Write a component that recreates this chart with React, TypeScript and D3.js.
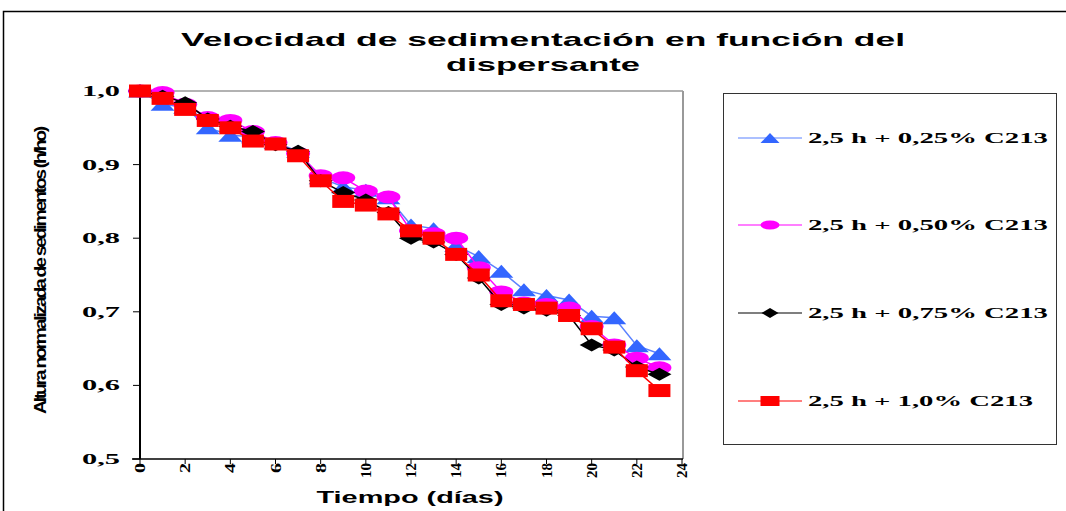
import React from "react";
import * as d3 from "d3";

// Days of observation
const days = [0, 1, 2, 3, 4, 5, 6, 7, 8, 9, 10, 11, 12, 13, 14, 15, 16, 17, 18, 19, 20, 21, 22, 23];

// Normalized sediment height (h/ho) for each dispersant dose
const c025 = [1.0, 0.982, 0.978, 0.95, 0.94, 0.938, 0.93, 0.918, 0.882, 0.87, 0.865, 0.855, 0.818, 0.813, 0.79, 0.775, 0.755, 0.73, 0.722, 0.716, 0.694, 0.692, 0.654, 0.643];
const c050 = [1.0, 0.998, 0.982, 0.964, 0.96, 0.945, 0.93, 0.915, 0.885, 0.882, 0.864, 0.856, 0.81, 0.806, 0.8, 0.76, 0.727, 0.712, 0.71, 0.705, 0.68, 0.655, 0.637, 0.624];
const c075 = [1.0, 0.993, 0.984, 0.962, 0.952, 0.945, 0.927, 0.918, 0.878, 0.862, 0.852, 0.835, 0.8, 0.795, 0.778, 0.746, 0.71, 0.705, 0.702, 0.695, 0.655, 0.648, 0.625, 0.615];
const c100 = [1.0, 0.99, 0.975, 0.96, 0.95, 0.932, 0.928, 0.912, 0.878, 0.85, 0.845, 0.833, 0.81, 0.8, 0.778, 0.75, 0.715, 0.71, 0.705, 0.695, 0.677, 0.652, 0.62, 0.593];

const seriesNames = ["2,5 h + 0,25% C213", "2,5 h + 0,50% C213", "2,5 h + 0,75% C213", "2,5 h + 1,0% C213"];
const xTicks = [0, 2, 4, 6, 8, 10, 12, 14, 16, 18, 20, 22, 24];
const yTicks = [0.5, 0.6, 0.7, 0.8, 0.9, 1.0];

type Shape = "triangle" | "circle" | "diamond" | "square";
const series: { name: string; values: number[]; color: string; line: string; shape: Shape }[] = [
  { name: seriesNames[0], values: c025, color: "#3366FF", line: "#5b82ff", shape: "triangle" },
  { name: seriesNames[1], values: c050, color: "#FF00FF", line: "#FF00FF", shape: "circle" },
  { name: seriesNames[2], values: c075, color: "#000000", line: "#000000", shape: "diamond" },
  { name: seriesNames[3], values: c100, color: "#FF0000", line: "#FF0000", shape: "square" },
];

const left = 140, right = 682, top = 91, bottom = 459;
const x = d3.scaleLinear().domain([0, 24]).range([left, right]);
const y = d3.scaleLinear().domain([0.5, 1.0]).range([bottom, top]);

function Marker({ shape, cx, cy, color, w, h }: { shape: Shape; cx: number; cy: number; color: string; w: number; h: number }) {
  if (shape === "triangle") {
    return <polygon points={`${cx},${cy - h / 2} ${cx + w / 2},${cy + h / 2} ${cx - w / 2},${cy + h / 2}`} fill={color} />;
  }
  if (shape === "circle") {
    return <ellipse cx={cx} cy={cy} rx={w / 2} ry={h / 2} fill={color} />;
  }
  if (shape === "diamond") {
    return <polygon points={`${cx},${cy - h / 2} ${cx + w / 2},${cy} ${cx},${cy + h / 2} ${cx - w / 2},${cy}`} fill={color} />;
  }
  return <rect x={cx - w / 2} y={cy - h / 2} width={w} height={h} fill={color} />;
}

const fmt = (v: number) => v.toFixed(1).replace(".", ",");

export default function App() {
  const line = d3
    .line<number>()
    .x((_, i) => x(days[i]))
    .y((v) => y(v));

  const legendRows = [138, 225, 313, 401];

  return (
    <svg
      width={1066}
      height={511}
      style={{ position: "absolute", left: 0, top: 0, background: "#fff" }}
    >
      {/* chart frame */}
      <rect x={3.5} y={11.5} width={1080} height={520} fill="#fff" stroke="#000" strokeWidth={1.5} />

      {/* title */}
      <g fontFamily="Arial, 'Liberation Sans', sans-serif" fontWeight="bold" fontSize={19} fill="#000" textAnchor="middle">
        <text x={543} y={46} textLength={724} lengthAdjust="spacingAndGlyphs">Velocidad de sedimentación en función del</text>
        <text x={543} y={71} textLength={194} lengthAdjust="spacingAndGlyphs">dispersante</text>
      </g>

      {/* plot area border */}
      <line x1={left} y1={top} x2={right + 1} y2={top} stroke="#999" strokeWidth={1.5} />
      <line x1={right + 1} y1={top} x2={right + 1} y2={bottom} stroke="#999" strokeWidth={2} />

      {/* y axis */}
      <line x1={left} y1={top} x2={left} y2={bottom} stroke="#000" strokeWidth={2} />
      {yTicks.map((t) => (
        <g key={t}>
          <line x1={left - 7} y1={y(t)} x2={left} y2={y(t)} stroke="#000" strokeWidth={1} />
          <text
            x={120}
            y={y(t) + 5}
            textAnchor="end"
            fontFamily="'Liberation Serif', 'Times New Roman', serif"
            fontWeight="bold"
            fontSize={15}
            textLength={38}
            lengthAdjust="spacingAndGlyphs"
          >
            {fmt(t)}
          </text>
        </g>
      ))}
      <text
        transform={`translate(46, ${(128 + 414) / 2}) rotate(-90)`}
        textAnchor="middle"
        fontFamily="Arial, 'Liberation Sans', sans-serif"
        fontWeight="bold"
        fontSize={17}
        textLength={286}
        lengthAdjust="spacingAndGlyphs"
        style={{ letterSpacing: "-2px" }}
      >
        Altura normalizada de sedimentos (h/ho)
      </text>

      {/* x axis */}
      <line x1={left - 8} y1={bottom} x2={right + 1} y2={bottom} stroke="#000" strokeWidth={1.5} />
      {xTicks.map((t) => (
        <g key={t}>
          <line x1={x(t)} y1={bottom} x2={x(t)} y2={bottom + 5} stroke="#000" strokeWidth={1} />
          <text
            transform={`translate(${x(t) + 5}, 463) rotate(-90)`}
            textAnchor="end"
            fontFamily="'Liberation Serif', 'Times New Roman', serif"
            fontWeight="bold"
            fontSize={15}
            textLength={t >= 10 ? 15 : 10}
            lengthAdjust="spacingAndGlyphs"
          >
            {String(t)}
          </text>
        </g>
      ))}
      <text
        x={410}
        y={503}
        textAnchor="middle"
        fontFamily="Arial, 'Liberation Sans', sans-serif"
        fontWeight="bold"
        fontSize={17}
        textLength={187}
        lengthAdjust="spacingAndGlyphs"
      >
        Tiempo (días)
      </text>

      {/* series */}
      {series.map((s) => (
        <g key={s.name}>
          <path d={line(s.values) ?? ""} fill="none" stroke={s.line} strokeWidth={1.5} />
          {s.values.map((v, i) => (
            <Marker key={i} shape={s.shape} cx={x(days[i])} cy={y(v)} color={s.color} w={s.shape === "square" ? 22 : 24} h={13} />
          ))}
        </g>
      ))}

      {/* legend */}
      <rect x={723.5} y={93.5} width={333} height={351} fill="#fff" stroke="#333" strokeWidth={1} />
      {series.map((s, i) => (
        <g key={s.name}>
          <line x1={738} y1={legendRows[i]} x2={802} y2={legendRows[i]} stroke={s.line} strokeWidth={1.2} />
          <Marker shape={s.shape} cx={770} cy={legendRows[i]} color={s.color} w={s.shape === "diamond" ? 17 : 19} h={s.shape === "circle" ? 9 : 10} />
          <text
            x={808}
            y={legendRows[i] + 5}
            fontFamily="'Liberation Serif', 'Times New Roman', serif"
            fontWeight="bold"
            fontSize={15}
            textLength={i === 3 ? 225 : 240}
            lengthAdjust="spacingAndGlyphs"
          >
            {s.name}
          </text>
        </g>
      ))}
    </svg>
  );
}
